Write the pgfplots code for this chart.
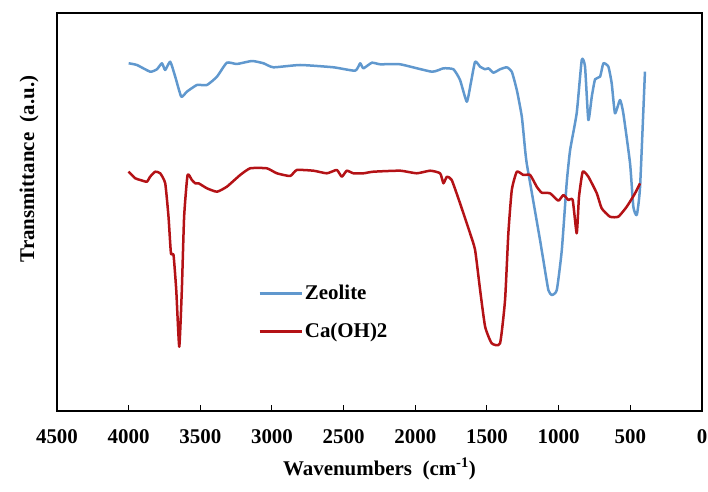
\documentclass[border=0pt]{standalone}
\usepackage{pgfplots}
\pgfplotsset{compat=1.18}
\usepackage{fontspec}
\setmainfont{Liberation Serif}
\definecolor{zeo}{RGB}{96,152,206}
\definecolor{caoh}{RGB}{180,18,22}
\begin{document}
\begin{tikzpicture}
\begin{axis}[
  scale only axis, width=645bp, height=398bp,
  x dir=reverse, xmin=0, xmax=4500, ymin=0, ymax=398,
  xtick={0,500,...,4500}, ytick=\empty,
  xtick pos=bottom, tick align=inside, major tick length=6bp,
  axis line style={line width=1.1bp, black},
  tick style={black, line width=1bp},
  scaled x ticks=false,
  /pgf/number format/assume math mode=true,
  /pgf/number format/1000 sep={},
  xticklabel style={font=\fontsize{21}{21}\selectfont\bfseries, anchor=center, yshift=-26bp},
  xlabel={Wavenumbers~~(cm\textsuperscript{-1})},
  ylabel={Transmittance~~(a.u.)},
  label style={font=\fontsize{21}{21}\selectfont\bfseries},
  xlabel style={at={(axis description cs:0.5,-0.146)}, anchor=center},
  ylabel style={at={(axis description cs:-0.0434,0.608)}, anchor=center},
  legend cell align=left,
  legend style={draw=none, fill=none, at={(axis description cs:0.312,0.248)}, anchor=west,
    font=\fontsize{21}{21}\selectfont\bfseries, row sep=18bp, inner sep=0pt,
    nodes={inner sep=2bp}},
  legend image code/.code={\draw[#1] (0bp,0bp) -- (42bp,0bp);},
]
\coordinate (ll) at (rel axis cs:0,0);
\coordinate (ur) at (rel axis cs:1,1);
\addplot[zeo, line width=2.5bp, line join=round, smooth, tension=0.3] coordinates {
(4000,347.7) (3942,346) (3850,339.3) (3803,341.7) (3768,347.7) (3745,341) (3710,349.3)
(3675,334.3) (3633,314.3) (3594,319.3) (3524,326) (3454,326) (3384,334.3) (3315,348.3)
(3245,347) (3140,350) (3059,347.7) (2990,343.7) (2804,346) (2571,343.7) (2420,340.3)
(2385,347.7) (2362,342.7) (2303,348.3) (2245,346.7) (2106,346.7) (1885,339.3) (1804,342.7)
(1734,341.7) (1688,331) (1641,309.3) (1613,327.7) (1583,349.3) (1548,344.3) (1513,341.7)
(1490,342.7) (1455,338.3) (1409,341.7) (1362,343.7) (1327,339.3) (1292,321) (1257,294.3)
(1234,261) (1223,247.7) (1199,228) (1176,209) (1153,190) (1130,171) (1107,151) (1072,121)
(1048,116) (1013,121) (978,161) (944,228) (920,261) (874,298) (839,351) (816,344.3)
(793,291) (769,314.3) (746,331.7) (711,334.3) (688,347.7) (653,344.3) (630,327.7)
(607,297.7) (572,311) (549,297.7) (502,247.7) (479,204.3) (455,196) (432,224.3) (398,339.3)
};
\addlegendentry{Zeolite}
\addplot[caoh, line width=2.5bp, line join=round, smooth, tension=0.3] coordinates {
(4001,239.3) (3954,232.7) (3919,231) (3873,229.3) (3850,234.3) (3815,239.3) (3780,237.7)
(3745,227.7) (3722,194.3) (3705,157.7) (3687,156) (3668,121) (3647,64.3) (3629,121)
(3613,194.3) (3589,236) (3559,231) (3536,227.7) (3512,227.7) (3454,222.7) (3384,219.3)
(3315,224.3) (3222,236) (3152,242.7) (3036,242.7) (2966,237.7) (2873,235) (2827,241)
(2711,240.3) (2617,237.7) (2548,241) (2513,234.3) (2478,240.3) (2432,237.7) (2362,237.7)
(2292,239.3) (2106,240.3) (1990,237.7) (1897,240.3) (1827,237.7) (1804,227.7) (1780,234.3)
(1746,231) (1688,207.7) (1618,177.7) (1583,161) (1548,121) (1513,84.3) (1467,67.7)
(1409,67.7) (1374,111) (1351,177.7) (1327,221) (1292,239.3) (1246,236) (1199,236)
(1153,224.3) (1118,218.3) (1060,217.7) (1002,210.3) (967,216) (932,211) (902,211)
(874,177.7) (858,214.3) (832,239.3) (793,234.3) (734,217.7) (700,202.7) (642,194.3)
(584,194.3) (525,204.3) (467,217.7) (432,227.7)
};
\addlegendentry{Ca(OH)2}
\end{axis}
\pgfresetboundingbox
\path[use as bounding box] ([shift={(-57bp,-81bp)}]ll) rectangle ([shift={(6bp,13bp)}]ur);
\end{tikzpicture}
\end{document}
